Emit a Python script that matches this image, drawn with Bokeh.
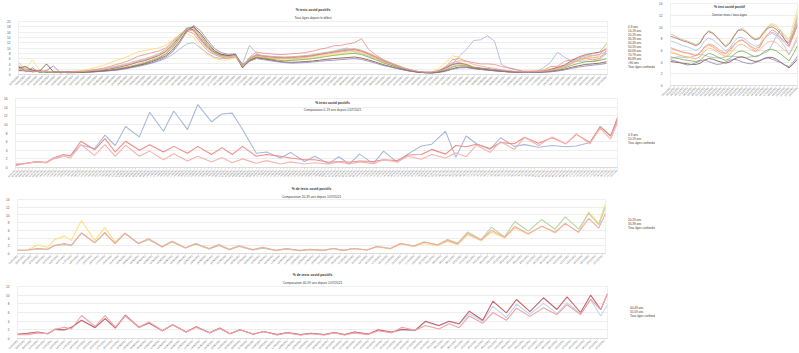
import math
import pandas as pd
from bokeh.plotting import figure
from bokeh.models import (Label, Legend, LegendItem, FixedTicker, DatetimeTickFormatter,
                          Range1d, Title, Spacer)
from bokeh.layouts import column, row
from bokeh.embed import file_html
from bokeh.resources import INLINE

FONT = "Liberation Sans"

# ---------------- Chart 1 : weekly values since the start ----------------
START_ALL = "2020-05-13"
END_ALL = "2021-12-23"
ALL_0_9 = [1.5, 2.5, 1.0, 1.8, 0.8, 1.2, 0.7, 0.9, 1.0, 0.8,
           1.0, 1.2, 1.4, 1.8, 2.2, 2.6, 3.0, 3.4, 3.8, 4.2,
           5.0, 6.0, 7.5, 9.5, 11.5, 12.0, 10.0, 8.0, 6.5, 6.0,
           6.2, 6.8, 4.0, 11.0, 8.0, 6.5, 6.0, 6.2, 6.0, 5.8,
           6.0, 6.5, 7.0, 7.5, 8.0, 8.8, 9.5, 10.0, 8.5, 8.0,
           7.0, 6.0, 5.0, 4.0, 3.0, 2.2, 1.6, 1.1, 0.8, 0.8,
           1.2, 2.0, 4.0, 7.0, 9.5, 12.8, 13.1, 14.6, 12.6, 3.8,
           2.5, 1.8, 1.2, 1.0, 1.2, 2.5, 4.6, 8.4, 6.5, 5.0,
           5.0, 5.1, 4.8, 5.5, 8.0]
ALL_10_19 = [2.5, 1.5, 1.2, 1.5, 1.0, 0.9, 0.8, 0.9, 1.1, 1.2,
             1.5, 1.9, 2.3, 3.0, 3.8, 4.5, 5.5, 6.8, 7.5, 8.2,
             8.8, 10.0, 12.5, 15.0, 16.5, 15.5, 12.0, 9.0, 7.5, 6.5,
             6.2, 6.5, 3.2, 6.5, 8.5, 8.0, 7.8, 7.5, 7.6, 7.8,
             8.0, 8.3, 8.8, 9.5, 10.0, 10.8, 11.0, 11.5, 12.0, 13.5,
             9.5, 7.5, 5.8, 4.5, 3.5, 2.5, 1.7, 1.1, 0.8, 0.8,
             1.3, 2.8, 5.6, 6.0, 5.0, 4.5, 4.0, 4.0, 3.8, 3.0,
             2.5, 2.0, 1.3, 1.3, 1.4, 1.6, 3.0, 3.1, 5.0, 5.5,
             6.0, 6.0, 5.5, 6.0, 9.0]
ALL_20_29 = [1.8, 2.2, 5.5, 1.6, 1.2, 1.0, 0.9, 1.0, 1.3, 1.5,
             2.0, 2.6, 3.4, 4.3, 5.3, 6.2, 7.2, 8.5, 9.0, 9.5,
             10.0, 11.0, 13.0, 15.0, 15.5, 14.0, 10.5, 7.5, 6.0, 5.5,
             5.5, 6.5, 3.0, 5.5, 6.8, 6.2, 5.8, 5.6, 5.5, 5.6,
             5.8, 6.0, 6.3, 6.8, 7.2, 7.6, 8.0, 8.4, 8.6, 8.0,
             7.2, 6.0, 4.8, 3.8, 2.8, 2.0, 1.4, 1.0, 0.8, 0.9,
             2.2, 4.5, 7.0, 6.5, 4.0, 3.0, 2.3, 2.0, 1.8, 1.3,
             1.0, 1.0, 0.9, 1.0, 1.2, 1.7, 2.2, 2.6, 3.0, 4.5,
             5.5, 6.5, 6.3, 7.0, 12.0]
ALL_30_39 = [1.6, 1.8, 1.2, 1.4, 1.0, 1.1, 0.8, 0.9, 1.0, 1.2,
             1.4, 1.7, 2.0, 2.6, 3.2, 3.8, 4.5, 5.3, 5.9, 6.8,
             7.8, 9.5, 12.0, 15.0, 17.2, 16.5, 12.8, 9.8, 7.8, 6.9,
             6.6, 7.0, 2.8, 6.2, 7.6, 7.1, 6.9, 6.7, 6.6, 6.7,
             6.9, 7.1, 7.5, 8.0, 8.4, 8.8, 9.2, 9.6, 9.8, 9.1,
             8.1, 6.9, 5.6, 4.6, 3.6, 2.6, 1.8, 1.2, 0.9, 0.9,
             1.4, 2.8, 4.2, 4.5, 3.8, 2.8, 2.4, 2.2, 1.9, 1.6,
             1.3, 1.1, 0.9, 0.9, 1.0, 1.2, 1.6, 2.5, 3.2, 4.6,
             6.0, 7.2, 7.8, 8.5, 11.5]
ALL_40_49 = [1.4, 1.5, 1.1, 1.3, 1.0, 0.9, 0.8, 0.8, 0.9, 1.0,
             1.2, 1.4, 1.7, 2.1, 2.7, 3.2, 3.9, 4.7, 5.3, 6.2,
             7.2, 8.7, 11.2, 14.3, 17.0, 16.8, 13.3, 10.2, 8.1, 7.1,
             6.9, 7.3, 2.9, 5.9, 7.4, 7.0, 6.7, 6.5, 6.4, 6.5,
             6.7, 6.9, 7.2, 7.7, 8.1, 8.5, 8.9, 9.3, 9.5, 8.9,
             7.9, 6.7, 5.4, 4.4, 3.4, 2.4, 1.7, 1.1, 0.8, 0.8,
             1.3, 2.5, 3.8, 4.2, 3.6, 2.6, 2.3, 2.0, 1.8, 1.5,
             1.2, 1.0, 0.9, 0.9, 1.1, 1.3, 1.8, 2.6, 3.4, 4.8,
             6.2, 7.0, 7.2, 7.6, 8.5]
ALL_50_59 = [1.5, 1.4, 1.0, 1.2, 0.9, 1.0, 0.8, 0.9, 1.0, 1.0,
             1.2, 1.4, 1.6, 2.0, 2.6, 3.1, 3.8, 4.6, 5.2, 6.1,
             7.1, 8.6, 11.0, 14.2, 17.2, 17.0, 13.6, 10.4, 8.3, 7.2,
             7.0, 7.4, 3.1, 5.8, 7.3, 6.9, 6.6, 6.4, 6.3, 6.4,
             6.6, 6.8, 7.1, 7.6, 8.0, 8.4, 8.8, 9.2, 9.4, 8.8,
             7.8, 6.6, 5.3, 4.3, 3.3, 2.3, 1.6, 1.1, 0.8, 0.8,
             1.3, 2.5, 3.8, 4.3, 3.7, 2.7, 2.4, 2.1, 1.8, 1.5,
             1.2, 1.0, 0.9, 0.9, 1.1, 1.3, 1.9, 2.7, 3.6, 5.2,
             6.6, 7.5, 8.0, 8.4, 9.5]
ALL_60_69 = [4.5, 2.0, 1.4, 1.0, 1.3, 0.9, 0.7, 0.8, 0.9, 0.9,
             1.0, 1.2, 1.4, 1.7, 2.1, 2.6, 3.2, 3.9, 4.6, 5.5,
             6.5, 8.0, 10.5, 13.8, 17.0, 17.5, 14.2, 10.8, 8.5, 7.3,
             7.0, 7.3, 3.5, 5.6, 7.0, 6.6, 6.3, 6.1, 6.0, 6.1,
             6.3, 6.5, 6.8, 7.3, 7.7, 8.1, 8.5, 8.8, 9.0, 8.5,
             7.5, 6.3, 5.0, 4.0, 3.1, 2.2, 1.5, 1.0, 0.7, 0.7,
             1.1, 2.0, 3.2, 3.8, 3.5, 2.6, 2.2, 1.9, 1.6, 1.3,
             1.1, 0.9, 0.8, 0.8, 0.9, 1.1, 1.5, 2.2, 3.0, 4.2,
             5.2, 6.0, 6.3, 6.6, 8.0]
ALL_70_79 = [3.0, 1.5, 1.8, 0.8, 0.9, 0.7, 1.2, 0.6, 0.7, 0.8,
             0.9, 1.1, 1.3, 1.6, 2.0, 2.4, 3.0, 3.6, 4.3, 5.2,
             6.2, 7.6, 10.0, 13.5, 17.5, 18.0, 14.8, 11.2, 8.6, 7.4,
             7.1, 7.4, 3.8, 5.4, 6.6, 6.2, 5.8, 5.4, 5.2, 5.3,
             5.5, 5.7, 6.0, 6.4, 6.8, 7.2, 7.5, 7.8, 8.0, 7.5,
             6.6, 5.6, 4.5, 3.6, 2.8, 2.0, 1.4, 0.9, 0.7, 0.6,
             0.9, 1.7, 2.8, 3.4, 3.2, 2.5, 2.1, 1.8, 1.5, 1.2,
             1.0, 0.9, 0.8, 0.8, 0.9, 1.0, 1.3, 1.8, 2.5, 3.4,
             4.2, 4.8, 5.0, 5.3, 6.0]
ALL_80_89 = [2.5, 3.0, 1.5, 1.2, 4.0, 1.0, 0.8, 0.9, 0.8, 0.9,
             1.0, 1.1, 1.3, 1.5, 1.8, 2.2, 2.7, 3.3, 4.0, 4.8,
             5.8, 7.0, 9.2, 12.5, 16.5, 18.0, 15.5, 12.0, 9.0, 7.6,
             7.2, 7.5, 2.5, 5.2, 6.3, 5.9, 5.5, 5.0, 4.7, 4.6,
             4.7, 4.9, 5.1, 5.4, 5.7, 6.0, 6.2, 6.4, 6.6, 6.2,
             5.5, 4.7, 3.8, 3.1, 2.4, 1.8, 1.3, 0.9, 0.7, 0.6,
             0.8, 1.4, 2.2, 2.8, 2.8, 2.3, 2.0, 1.7, 1.4, 1.2,
             1.0, 0.9, 0.8, 0.8, 0.8, 0.9, 1.1, 1.5, 2.0, 2.7,
             3.3, 3.8, 4.0, 4.3, 4.8]
ALL_90 = [3.5, 1.0, 2.5, 0.8, 1.5, 3.2, 0.6, 1.0, 0.7, 1.2,
          0.9, 1.0, 1.2, 1.4, 1.6, 2.0, 2.5, 3.0, 3.6, 4.4,
          5.3, 6.5, 8.5, 11.8, 16.0, 18.5, 16.5, 13.0, 9.8, 8.2,
          7.6, 7.8, 3.0, 5.0, 6.0, 5.6, 5.2, 4.8, 4.5, 4.3,
          4.4, 4.5, 4.7, 5.0, 5.2, 5.4, 5.6, 5.8, 6.0, 5.7,
          5.0, 4.3, 3.5, 2.9, 2.3, 1.7, 1.2, 0.9, 0.7, 0.6,
          0.8, 1.2, 2.0, 2.5, 2.6, 2.2, 1.9, 1.6, 1.4, 1.2,
          1.0, 0.9, 0.8, 0.8, 0.8, 0.9, 1.0, 1.3, 1.7, 2.3,
          2.8, 3.2, 3.5, 3.8, 4.2]
ALL_TOUS = [2.0, 1.6, 1.3, 1.2, 1.1, 1.0, 0.9, 0.9, 1.0, 1.1,
            1.3, 1.6, 1.9, 2.4, 3.0, 3.5, 4.2, 5.0, 5.6, 6.5,
            7.5, 9.0, 11.5, 14.5, 17.0, 16.5, 13.0, 10.0, 8.0, 7.0,
            6.8, 7.2, 3.0, 6.0, 7.5, 7.0, 6.8, 6.6, 6.5, 6.6,
            6.8, 7.0, 7.3, 7.8, 8.2, 8.6, 9.0, 9.4, 9.6, 9.0,
            8.0, 6.8, 5.5, 4.5, 3.5, 2.5, 1.8, 1.2, 0.9, 0.9,
            1.5, 3.0, 4.5, 5.2, 5.0, 3.8, 3.2, 2.7, 2.3, 1.8,
            1.5, 1.2, 1.0, 1.0, 1.1, 1.2, 1.5, 2.3, 3.0, 4.0,
            5.5, 6.5, 7.0, 7.5, 10.0]

LABELS = ["0-9 ans", "10-19 ans", "20-29 ans", "30-39 ans", "40-49 ans", "50-59 ans",
          "60-69 ans", "70-79 ans", "80-89 ans", ">90 ans", "Tous âges confondus"]
COLORS = ["#9fb3d9", "#ee8a84", "#ffd966", "#a9d18e", "#9dc3e6", "#c55a5a",
          "#f4b183", "#70ad47", "#7f4f24", "#8e7cc3", "#f2a2a2"]

# ---------------- Charts 2-4 : since 1/07/2021 ----------------
START_2021 = "2021-07-01"
END_2021 = "2021-12-23"
DAYS_2021 = [0, 3, 6, 9, 11, 14, 16, 19, 23, 26, 29, 32, 36, 39, 43, 46, 50, 53, 57, 60,
             63, 66, 70, 73, 77, 80, 84, 87, 91, 94, 97, 100, 104, 107, 111, 114, 118, 121,
             125, 128, 131, 134, 138, 141, 145, 148, 152, 156, 160, 163, 167, 170, 173, 175]
V21_0_9 = [0.4, 1.0, 1.3, 1.1, 2.0, 2.6, 2.8, 5.2, 4.4, 7.5,
           5.1, 9.5, 7.1, 12.8, 8.4, 13.1, 8.8, 14.6, 10.6, 12.4,
           12.6, 8.8, 3.3, 3.6, 2.2, 3.5, 1.4, 2.6, 0.9, 2.5,
           0.8, 3.1, 0.9, 3.8, 1.2, 3.1, 5.0, 5.4, 8.4, 2.4,
           7.3, 5.5, 4.2, 6.9, 4.9, 5.3, 4.7, 5.1, 4.8, 5.0,
           5.8, 9.5, 7.3, 10.9]
V21_10_19 = [0.6, 1.0, 1.3, 1.2, 2.2, 3.0, 2.7, 6.1, 4.1, 6.7,
             3.6, 6.1, 4.0, 5.3, 3.6, 4.9, 3.3, 4.9, 3.0, 4.6,
             3.0, 4.9, 2.6, 3.0, 2.6, 2.2, 1.8, 1.8, 1.2, 1.4,
             1.2, 1.5, 1.4, 1.8, 1.6, 2.9, 3.0, 4.2, 3.1, 5.1,
             4.8, 5.4, 4.4, 5.8, 5.5, 7.0, 5.6, 6.9, 5.5, 7.7,
             5.8, 9.5, 7.3, 11.6]
V21_20_29 = [0.85, 0.9, 2.2, 1.6, 3.6, 4.5, 3.4, 8.5, 3.4, 6.7,
             3.0, 5.3, 2.6, 3.8, 1.7, 3.1, 1.4, 2.6, 1.2, 2.3,
             1.0, 2.0, 0.9, 1.5, 0.7, 1.2, 0.7, 1.0, 0.8, 1.3,
             0.8, 1.3, 0.9, 1.7, 1.2, 2.4, 1.8, 2.6, 2.0, 3.1,
             2.3, 4.8, 3.3, 5.5, 4.0, 6.6, 5.0, 7.0, 5.3, 7.8,
             5.5, 10.8, 7.9, 13.0]
V21_30_39 = [0.85, 0.9, 1.2, 1.1, 2.0, 2.3, 2.0, 5.3, 2.8, 5.5,
             2.5, 5.3, 2.5, 3.6, 1.7, 3.0, 1.4, 2.4, 1.2, 2.1,
             1.0, 1.8, 0.9, 1.4, 0.8, 1.2, 0.7, 1.0, 0.8, 1.3,
             0.8, 1.3, 0.9, 1.8, 1.3, 2.6, 2.0, 3.0, 2.3, 3.6,
             2.7, 5.6, 3.6, 6.8, 4.3, 8.3, 5.8, 8.8, 6.3, 9.5,
             6.3, 10.4, 7.4, 12.1]
V21_40_49 = [0.95, 1.2, 1.4, 1.1, 2.0, 2.0, 2.4, 4.2, 2.6, 4.6,
             2.5, 5.2, 2.6, 3.5, 1.8, 3.1, 1.5, 2.6, 1.3, 2.3,
             1.1, 2.0, 1.0, 1.6, 0.9, 1.3, 0.8, 1.2, 0.9, 1.4,
             0.9, 1.5, 1.0, 1.9, 1.4, 2.0, 1.8, 3.8, 2.9, 3.9,
             3.3, 5.7, 4.0, 7.4, 4.8, 7.9, 5.6, 8.1, 5.8, 8.2,
             5.7, 8.9, 5.2, 7.8]
V21_50_59 = [0.95, 1.2, 1.5, 1.1, 2.1, 2.0, 2.6, 4.2, 2.5, 4.6,
             2.4, 5.4, 2.6, 3.6, 1.8, 3.2, 1.5, 2.7, 1.3, 2.4,
             1.1, 2.0, 1.0, 1.6, 0.9, 1.4, 0.9, 1.2, 0.9, 1.4,
             0.9, 1.5, 1.0, 2.0, 1.5, 2.1, 1.9, 4.0, 3.0, 4.0,
             3.4, 6.3, 4.2, 8.6, 5.9, 9.0, 6.2, 9.4, 6.7, 9.6,
             6.0, 10.0, 6.7, 10.3]
V21_TOUS = [0.85, 0.9, 1.3, 1.1, 2.1, 2.6, 2.2, 5.3, 2.8, 5.3,
            2.6, 5.2, 2.6, 3.8, 1.8, 3.2, 1.5, 2.6, 1.3, 2.3,
            1.1, 2.0, 1.0, 1.6, 0.8, 1.3, 0.8, 1.1, 0.8, 1.3,
            0.8, 1.3, 0.9, 1.8, 1.3, 2.6, 1.9, 3.0, 2.2, 3.4,
            2.5, 5.2, 3.5, 6.0, 4.2, 7.0, 5.1, 7.1, 5.5, 7.8,
            5.5, 9.1, 6.6, 10.4]

# ---------------- Top-right : last month, all ages ----------------
START_TR = "2021-11-23"
END_TR = "2021-12-23"
TR_0_9 = [4.6, 4.8, 4.9, 4.8, 4.7, 4.9, 5.1, 5.3, 5.2, 4.9, 4.8, 4.7, 4.7, 4.9, 5.0, 5.0,
          4.9, 4.8, 4.8, 4.9, 5.0, 5.2, 5.5, 5.8, 7.0, 8.4, 9.5, 7.7, 7.3, 8.8, 10.9]
TR_10_19 = [6.5, 6.2, 5.9, 5.6, 5.5, 5.3, 5.1, 5.6, 6.5, 6.9, 6.6, 6.0, 5.6, 5.5, 6.2, 7.0,
            7.6, 7.7, 7.2, 6.5, 5.8, 6.4, 7.8, 8.8, 9.5, 9.1, 8.2, 7.5, 7.3, 9.0, 11.6]
TR_20_29 = [5.8, 5.6, 5.3, 5.0, 4.9, 4.7, 4.5, 5.0, 6.2, 7.0, 6.8, 6.2, 5.6, 5.0, 5.6, 6.8,
            7.6, 7.8, 7.2, 6.6, 6.2, 6.8, 8.6, 10.2, 10.6, 10.3, 9.4, 8.6, 7.9, 10.5, 13.0]
TR_30_39 = [8.8, 8.5, 8.1, 7.8, 7.6, 7.3, 7.0, 7.4, 8.6, 9.4, 9.0, 8.3, 7.6, 6.8, 7.4, 8.6,
            9.5, 9.8, 9.2, 8.5, 8.0, 8.2, 9.2, 10.0, 10.4, 10.0, 9.2, 8.4, 7.5, 9.6, 12.1]
TR_40_49 = [7.6, 7.4, 7.1, 6.8, 6.6, 6.3, 6.0, 6.4, 7.6, 8.1, 7.8, 7.2, 6.6, 5.9, 6.4, 7.5,
            8.2, 8.2, 7.7, 7.1, 6.7, 6.9, 7.8, 8.5, 8.9, 8.5, 7.6, 6.6, 5.2, 6.5, 7.8]
TR_50_59 = [8.4, 8.2, 7.9, 7.6, 7.4, 7.1, 6.8, 7.2, 8.5, 9.2, 8.9, 8.2, 7.4, 6.6, 7.2, 8.4,
            9.4, 9.5, 9.0, 8.3, 7.8, 8.0, 9.0, 9.8, 10.0, 9.6, 8.8, 7.9, 6.8, 8.5, 10.3]
TR_60_69 = [5.6, 5.4, 5.2, 5.0, 4.9, 4.7, 4.6, 4.9, 5.8, 6.4, 6.2, 5.7, 5.3, 4.9, 5.3, 6.2,
            6.9, 7.0, 6.6, 6.1, 5.8, 6.0, 6.8, 7.4, 7.6, 7.3, 6.6, 6.0, 5.4, 6.8, 8.4]
TR_70_79 = [4.9, 4.7, 4.6, 4.4, 4.3, 4.2, 4.1, 4.3, 5.0, 5.5, 5.3, 4.9, 4.6, 4.3, 4.6, 5.3,
            5.8, 5.9, 5.6, 5.2, 4.9, 5.1, 5.7, 6.1, 6.2, 5.9, 5.4, 4.8, 4.2, 5.4, 6.8]
TR_80_89 = [4.1, 4.0, 3.9, 3.8, 3.7, 3.6, 3.6, 3.8, 4.3, 4.6, 4.5, 4.2, 4.0, 3.8, 4.0, 4.5,
            4.8, 4.9, 4.6, 4.3, 4.1, 4.2, 4.6, 4.8, 4.8, 4.5, 4.0, 3.5, 3.0, 3.7, 4.5]
TR_90 = [4.4, 4.2, 4.0, 3.7, 3.5, 3.6, 3.9, 4.2, 4.4, 4.1, 3.8, 3.6, 3.7, 4.0, 4.3, 4.5,
         4.3, 4.0, 3.8, 3.7, 3.9, 4.2, 4.5, 4.7, 4.5, 4.2, 3.9, 3.5, 3.2, 4.0, 5.0]
TR_TOUS = [6.3, 6.1, 5.9, 5.7, 5.6, 5.4, 5.2, 5.6, 6.6, 7.1, 6.9, 6.4, 5.9, 5.4, 5.9, 6.9,
           7.6, 7.8, 7.3, 6.7, 6.3, 6.6, 7.8, 8.8, 9.1, 8.8, 8.0, 7.2, 6.6, 8.4, 10.4]

Y_MAX = [20, 16, 14, 12, 14]


def ms(rng):
    return (pd.DatetimeIndex(rng).asi8 // 10**6).tolist()


FMT = "%d/%m/%Y"


def make_fig(w, h, left, right, top, bottom, x0, x1, ymax, tick_freq, xfont, title=None):
    kw = {}
    if title is not None:
        kw["title"] = title
    p = figure(width=w, height=h, output_backend="svg", toolbar_location=None,
               x_axis_type="datetime",
               x_range=Range1d(pd.Timestamp(x0), pd.Timestamp(x1)),
               y_range=Range1d(0, ymax),
               min_border_left=left, min_border_right=right,
               min_border_top=top, min_border_bottom=bottom, **kw)
    p.background_fill_color = "white"
    p.outline_line_color = "#e4e4e4"
    p.outline_line_width = 0.6
    p.yaxis.ticker = FixedTicker(ticks=list(range(0, ymax + 1, 2)))
    p.yaxis.axis_line_color = None
    p.yaxis.major_tick_line_color = None
    p.yaxis.minor_tick_line_color = None
    p.yaxis.major_label_text_font = FONT
    p.yaxis.major_label_text_font_size = "3.2px"
    p.yaxis.major_label_text_color = "#595959"
    p.yaxis.major_label_standoff = 2
    p.ygrid.grid_line_color = "#e2e2e2"
    p.ygrid.grid_line_width = 0.6
    p.xgrid.grid_line_color = None
    p.xaxis.ticker = FixedTicker(ticks=ms(pd.date_range(x0, x1, freq=tick_freq)))
    p.xaxis.formatter = DatetimeTickFormatter(days=FMT, months=FMT, years=FMT,
                                              hours=FMT, hourmin=FMT)
    p.xaxis.major_label_orientation = math.pi / 4
    p.xaxis.major_label_text_font = FONT
    p.xaxis.major_label_text_font_size = xfont
    p.xaxis.major_label_text_color = "#595959"
    p.xaxis.major_label_standoff = 1
    p.xaxis.axis_line_color = "#d0d0d0"
    p.xaxis.axis_line_width = 0.6
    p.xaxis.major_tick_line_color = "#d0d0d0"
    p.xaxis.major_tick_out = 1
    p.xaxis.major_tick_in = 0
    p.xaxis.minor_tick_line_color = None
    return p


def panel_titles(p, sub, offset, main_standoff, sub_standoff):
    # the figure's own title (main) sits outermost, the added one (sub) next to the frame
    p.title.align = "center"
    p.title.offset = offset
    p.title.standoff = main_standoff
    p.title.text_font = FONT
    p.title.text_font_size = "3.4px"
    p.title.text_font_style = "bold"
    p.title.text_color = "#333333"
    p.add_layout(Title(text=sub, align="center", offset=offset, standoff=sub_standoff,
                       text_font=FONT, text_font_size="3.2px", text_font_style="normal",
                       text_color="#404040"), "above")


def frame_titles(p, main, sub, cx, y_main, y_sub):
    p.add_layout(Label(x=cx, y=y_main, x_units="screen", y_units="screen", text=main,
                       text_font=FONT, text_font_size="3.4px", text_font_style="bold",
                       text_align="center", text_baseline="middle", text_color="#333333"))
    p.add_layout(Label(x=cx, y=y_sub, x_units="screen", y_units="screen", text=sub,
                       text_font=FONT, text_font_size="3.2px",
                       text_align="center", text_baseline="middle", text_color="#404040"))


def legend_block(w, h, x_off, top_off, labels, colors, width):
    lw, lh = w - x_off, h - top_off
    lf = figure(width=lw, height=lh, output_backend="svg", toolbar_location=None,
                x_axis_location=None, y_axis_location=None,
                x_range=Range1d(0, 1), y_range=Range1d(0, 1),
                min_border_left=0, min_border_right=0, min_border_top=0, min_border_bottom=0)
    lf.grid.visible = False
    lf.outline_line_color = None
    rs = [lf.line(x=[], y=[], line_color=c, line_width=width) for c in colors]
    items = [LegendItem(label=lab, renderers=[r]) for lab, r in zip(labels, rs)]
    leg = Legend(items=items, location="top_left", label_text_font=FONT,
                 label_text_font_size="3px", label_text_color="#404040",
                 glyph_width=6, glyph_height=3, label_height=3, label_width=10,
                 spacing=0, padding=0, margin=0, label_standoff=2,
                 border_line_color=None, background_fill_alpha=0)
    lf.add_layout(leg)
    parts = [column(Spacer(width=lw, height=top_off), lf)]
    if x_off > 0:
        parts = [Spacer(width=x_off, height=h)] + parts
    return row(*parts)


# ---- Chart 1
all_series = [ALL_0_9, ALL_10_19, ALL_20_29, ALL_30_39, ALL_40_49, ALL_50_59,
              ALL_60_69, ALL_70_79, ALL_80_89, ALL_90, ALL_TOUS]
x_all = pd.date_range(START_ALL, periods=len(ALL_TOUS), freq="7D")
p1 = make_fig(612, 90, 18, 5, 21, 15, START_ALL, END_ALL, Y_MAX[0], "6D", "2.5px",
              title="% tests covid positifs")
for s, c in zip(all_series, COLORS):
    p1.line(x_all, s, line_color=c, line_width=0.8)
panel_titles(p1, "Tous âges depuis le début", 12, 2, 3)
l1 = legend_block(43, 90, 8, 25, LABELS, COLORS, 0.8)

# ---- Charts 2-4
x21 = pd.Timestamp(START_2021) + pd.to_timedelta(DAYS_2021, unit="D")

C2 = ["#a9b9dc", "#ef8d86", "#f6b4b0"]
p2 = make_fig(620, 91, 6, 3, 8, 9, START_2021, END_2021, Y_MAX[1], "1D", "2px")
for s, c in zip([V21_0_9, V21_10_19, V21_TOUS], C2):
    p2.line(x21, s, line_color=c, line_width=1.1)
frame_titles(p2, "% tests covid positifs", "Comparaison 0-19 ans depuis 1/07/2021", 317, 65, 58)
l2 = legend_block(35, 91, 0, 43, ["0-9 ans", "10-19 ans", "Tous âges confondus"], C2, 1.1)

C3 = ["#ffdf85", "#b5d79f", "#f4a9a9"]
p3 = make_fig(610, 87, 17, 5, 18, 14, START_2021, END_2021, Y_MAX[2], "2D", "2.4px",
              title="% de tests covid positifs")
for s, c in zip([V21_20_29, V21_30_39, V21_TOUS], C3):
    p3.line(x21, s, line_color=c, line_width=1.1)
panel_titles(p3, "Comparaison 20-39 ans depuis 1/07/2021", 14, 2, 2)
l3 = legend_block(45, 87, 10, 37, ["20-29 ans", "30-39 ans", "Tous âges confondus"], C3, 1.1)

C4 = ["#bcd7f0", "#c8646a", "#f3a3a3"]
p4 = make_fig(610, 85, 17, 3, 18, 13, START_2021, END_2021, Y_MAX[3], "2D", "2.4px",
              title="% de tests covid positifs")
for s, c in zip([V21_40_49, V21_50_59, V21_TOUS], C4):
    p4.line(x21, s, line_color=c, line_width=1.1)
panel_titles(p4, "Comparaison 40-59 ans depuis 1/07/2021", 13, 1, 3)
l4 = legend_block(45, 85, 12, 38, ["40-49 ans", "50-59 ans", "Tous âges confondus"], C4, 1.1)

# ---- Top-right
tr_series = [TR_0_9, TR_10_19, TR_20_29, TR_30_39, TR_40_49, TR_50_59,
             TR_60_69, TR_70_79, TR_80_89, TR_90, TR_TOUS]
x_tr = pd.date_range(START_TR, periods=len(TR_TOUS), freq="D")
p5 = make_fig(144, 100, 13, 2, 3, 14, START_TR, END_TR, Y_MAX[4], "1D", "2.4px")
for s, c in zip(tr_series, COLORS):
    p5.line(x_tr, s, line_color=c, line_width=0.8)
frame_titles(p5, "% test covid positif", "Dernier mois / tous âges", 59, 79, 71)

left = column(row(p1, l1), row(p2, l2), row(p3, l3), row(p4, l4))
layout = row(left, p5)
open("out.html", "w").write(file_html(layout, INLINE))
